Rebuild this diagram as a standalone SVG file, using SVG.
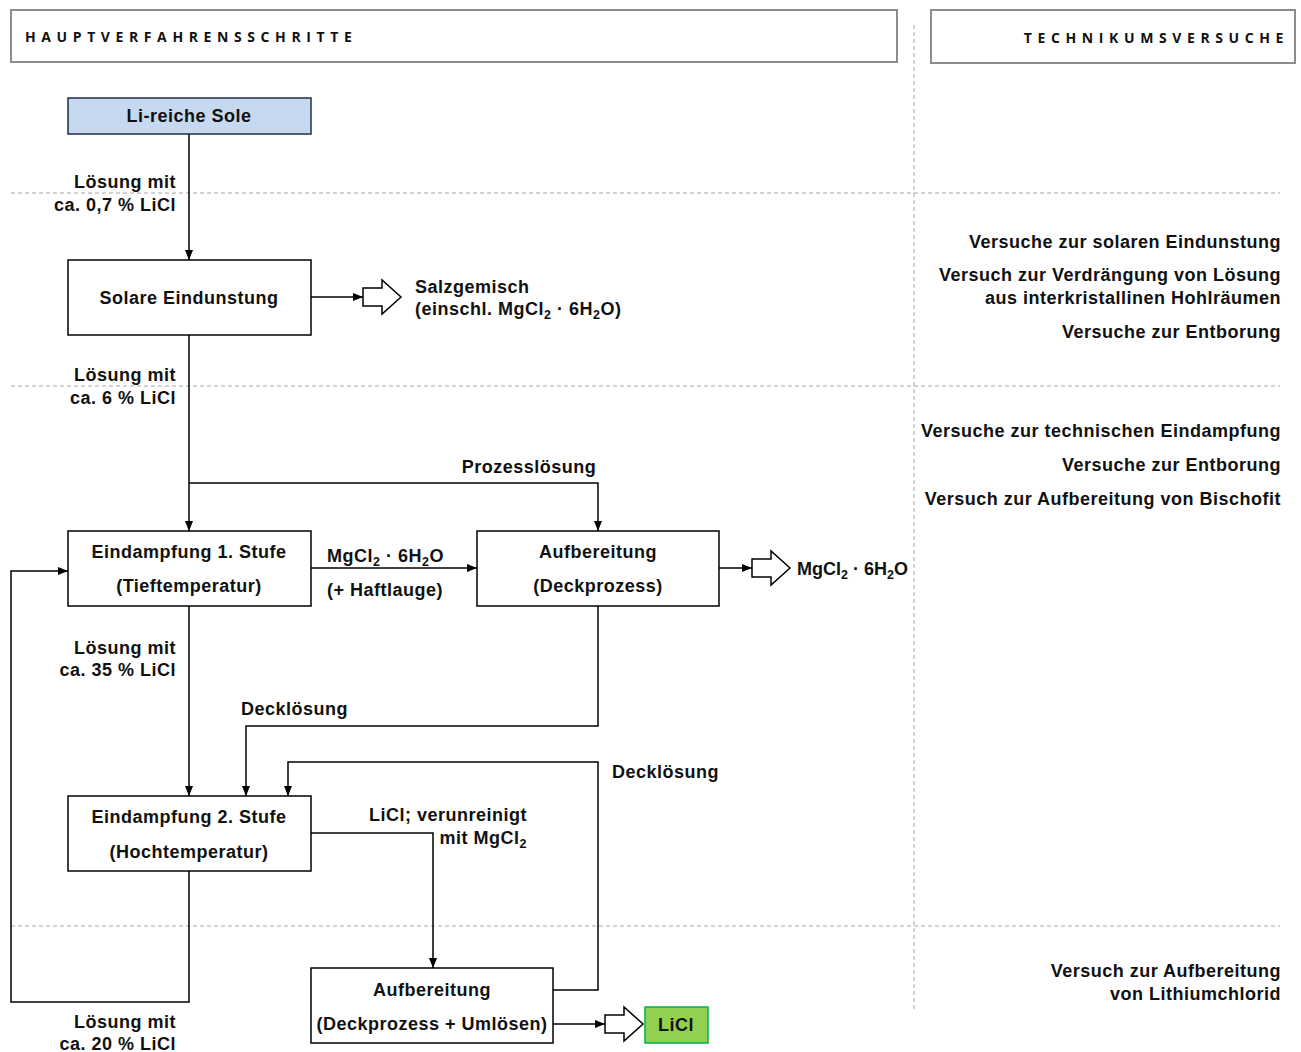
<svg xmlns="http://www.w3.org/2000/svg" width="1301" height="1052" viewBox="0 0 1301 1052">
<style>
  .hdr { fill: #fff; stroke: #8c8c8c; stroke-width: 2; }
  .hdrtxt { font-family: "Open Sans", "DejaVu Sans", sans-serif; font-weight: bold; font-size: 14px; letter-spacing: 5.6px; fill: #111; }
  .box { fill: #fff; stroke: #000; stroke-width: 1.5; }
  .t { font-family: "Liberation Sans", Arial, sans-serif; font-weight: bold; font-size: 18px; letter-spacing: 0.5px; fill: #111; }
  .c { text-anchor: middle; }
  .e { text-anchor: end; }
  .tight { letter-spacing: 0; }
  .sub { font-size: 12.5px; }
  .guide { stroke: #a6a6a6; stroke-width: 1; stroke-dasharray: 4 3; fill: none; }
  .edge { stroke: #000; stroke-width: 1.5; fill: none; }
  .blk { fill: #fff; stroke: #000; stroke-width: 1.5; stroke-linejoin: miter; }
</style>
<defs>
  <marker id="arr" viewBox="0 0 10 8" refX="10" refY="4" markerWidth="10" markerHeight="8" markerUnits="userSpaceOnUse" orient="auto">
    <path d="M0,0 L10,4 L0,8 z" fill="#000"/>
  </marker>
  <!-- hollow block arrow, 38 long, origin at left middle -->
  <path id="blockArrow" class="blk" d="M0,-9 L19,-9 L19,-17 L38,0 L19,17 L19,9 L0,9 z"/>
</defs>

<!-- column headers -->
<g id="header-left">
  <rect class="hdr" x="11" y="10" width="886" height="52"/>
  <text class="hdrtxt" x="25" y="42">HAUPTVERFAHRENSSCHRITTE</text>
</g>
<g id="header-right">
  <rect class="hdr" x="931" y="10" width="364" height="53"/>
  <text class="hdrtxt" x="1289" y="43" text-anchor="end">TECHNIKUMSVERSUCHE</text>
</g>

<!-- stage separators -->
<g id="guides">
  <line class="guide" x1="914" y1="25" x2="914" y2="1012"/>
  <line class="guide" x1="11" y1="193" x2="1280" y2="193"/>
  <line class="guide" x1="11" y1="386" x2="1280" y2="386"/>
  <line class="guide" x1="11" y1="926" x2="1280" y2="926"/>
</g>

<!-- connectors -->
<g id="connectors">
  <line class="edge" x1="189" y1="134" x2="189" y2="260" marker-end="url(#arr)"/>
  <line class="edge" x1="189" y1="335" x2="189" y2="531" marker-end="url(#arr)"/>
  <polyline class="edge" points="189,483 598,483 598,531" marker-end="url(#arr)"/>
  <line class="edge" x1="311" y1="297" x2="363" y2="297" marker-end="url(#arr)"/>
  <line class="edge" x1="311" y1="568" x2="477" y2="568" marker-end="url(#arr)"/>
  <line class="edge" x1="719" y1="568" x2="752" y2="568" marker-end="url(#arr)"/>
  <line class="edge" x1="189" y1="606" x2="189" y2="796" marker-end="url(#arr)"/>
  <polyline class="edge" points="598,606 598,726 246,726 246,796" marker-end="url(#arr)"/>
  <polyline class="edge" points="553,990 598,990 598,762 288,762 288,796" marker-end="url(#arr)"/>
  <polyline class="edge" points="311,833 433,833 433,968" marker-end="url(#arr)"/>
  <polyline class="edge" points="189,871 189,1002 11,1002 11,571 68,571" marker-end="url(#arr)"/>
  <line class="edge" x1="553" y1="1024" x2="605" y2="1024" marker-end="url(#arr)"/>
  <use href="#blockArrow" x="363" y="297"/>
  <use href="#blockArrow" x="752" y="568"/>
  <use href="#blockArrow" x="605" y="1024"/>
</g>

<!-- process nodes -->
<g id="node-sole">
  <rect x="68" y="98" width="243" height="36" fill="#c6d9f1" stroke="#1f2d4d" stroke-width="1.5"/>
  <text class="t c" x="189" y="122">Li-reiche Sole</text>
</g>
<g id="node-solar">
  <rect class="box" x="68" y="260" width="243" height="75"/>
  <text class="t c" x="189" y="304">Solare Eindunstung</text>
</g>
<g id="node-eind1">
  <rect class="box" x="68" y="531" width="243" height="75"/>
  <text class="t c" x="189" y="558">Eindampfung 1. Stufe</text>
  <text class="t c" x="189" y="592">(Tieftemperatur)</text>
</g>
<g id="node-aufb1">
  <rect class="box" x="477" y="531" width="242" height="75"/>
  <text class="t c" x="598" y="558">Aufbereitung</text>
  <text class="t c" x="598" y="592">(Deckprozess)</text>
</g>
<g id="node-eind2">
  <rect class="box" x="68" y="796" width="243" height="75"/>
  <text class="t c" x="189" y="823">Eindampfung 2. Stufe</text>
  <text class="t c" x="189" y="858">(Hochtemperatur)</text>
</g>
<g id="node-aufb2">
  <rect class="box" x="311" y="968" width="242" height="75"/>
  <text class="t c" x="432" y="996">Aufbereitung</text>
  <text class="t c" x="432" y="1030">(Deckprozess + Umlösen)</text>
</g>
<g id="node-licl">
  <rect x="645" y="1007" width="63" height="36" fill="#92d050" stroke="#00b050" stroke-width="1.5"/>
  <text class="t c" x="676" y="1031">LiCl</text>
</g>

<!-- stream labels -->
<g id="labels">
  <text class="t e" x="176" y="188">Lösung mit</text>
  <text class="t e" x="176" y="211">ca. 0,7 % LiCl</text>
  <text class="t e" x="176" y="381">Lösung mit</text>
  <text class="t e" x="176" y="404">ca. 6 % LiCl</text>
  <text class="t e" x="176" y="654">Lösung mit</text>
  <text class="t e" x="176" y="676">ca. 35 % LiCl</text>
  <text class="t e" x="176" y="1028">Lösung mit</text>
  <text class="t e" x="176" y="1050">ca. 20 % LiCl</text>

  <text class="t" x="415" y="293">Salzgemisch</text>
  <text class="t" x="415" y="315">(einschl. MgCl<tspan class="sub" dy="4">2</tspan><tspan dy="-4"> · 6H</tspan><tspan class="sub" dy="4">2</tspan><tspan dy="-4">O)</tspan></text>

  <text class="t c" x="529" y="473">Prozesslösung</text>

  <text class="t" x="327" y="562">MgCl<tspan class="sub" dy="4">2</tspan><tspan dy="-4"> · 6H</tspan><tspan class="sub" dy="4">2</tspan><tspan dy="-4">O</tspan></text>
  <text class="t" x="327" y="596">(+ Haftlauge)</text>

  <text class="t tight" x="797" y="575">MgCl<tspan class="sub" dy="4">2</tspan><tspan dy="-4"> · 6H</tspan><tspan class="sub" dy="4">2</tspan><tspan dy="-4">O</tspan></text>

  <text class="t" x="241" y="715">Decklösung</text>
  <text class="t" x="612" y="778">Decklösung</text>

  <text class="t e" x="527" y="821">LiCl;  verunreinigt</text>
  <text class="t e" x="527" y="844">mit MgCl<tspan class="sub" dy="4">2</tspan></text>
</g>

<!-- pilot-plant tests -->
<g id="tests">
  <text class="t e" x="1281" y="248">Versuche zur solaren Eindunstung</text>
  <text class="t e" x="1281" y="281">Versuch zur Verdrängung von Lösung</text>
  <text class="t e" x="1281" y="304">aus interkristallinen  Hohlräumen</text>
  <text class="t e" x="1281" y="338">Versuche zur Entborung</text>
  <text class="t e" x="1281" y="437">Versuche zur technischen Eindampfung</text>
  <text class="t e" x="1281" y="471">Versuche zur Entborung</text>
  <text class="t e" x="1281" y="505">Versuch zur Aufbereitung von Bischofit</text>
  <text class="t e" x="1281" y="977">Versuch zur Aufbereitung</text>
  <text class="t e" x="1281" y="1000">von Lithiumchlorid</text>
</g>
</svg>
